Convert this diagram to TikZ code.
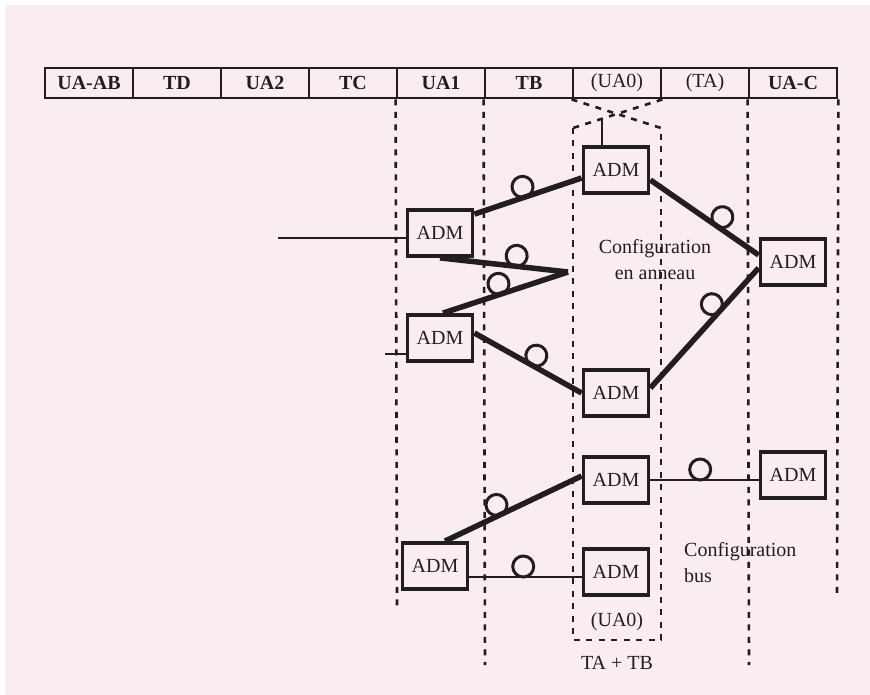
\documentclass[tikz,border=0pt]{standalone}
\usepackage{fontspec}
\setmainfont{Liberation Serif}
\definecolor{bgpink}{RGB}{249,237,240}
\definecolor{ink}{RGB}{35,30,30}
\newcommand{\fsz}{\fontsize{20}{26}\selectfont}
\begin{document}
\begin{tikzpicture}[x=1pt,y=-1pt,
  hcell/.style={draw=ink, line width=2.8pt, minimum width=88pt, minimum height=30pt, inner sep=0pt, font=\fsz\bfseries, text=ink},
  hcellr/.style={hcell, font=\fsz},
  adm/.style={draw=ink, line width=3.8pt, minimum width=65pt, minimum height=46pt, inner sep=0pt, font=\fsz, text=ink},
  ring/.style={draw=ink, line width=5.5pt},
  busline/.style={draw=ink, line width=2.6pt},
  thinline/.style={draw=ink, line width=1.6pt},
  coil/.style={circle, draw=ink, line width=3pt, minimum size=21pt, inner sep=0pt, outer sep=0pt, sloped, anchor=south},
  vdash/.style={draw=ink, line width=2.6pt, dash pattern=on 6pt off 6.5pt},
  lbl/.style={font=\fsz, text=ink, inner sep=0pt}
]
\fill[white] (0,0) rectangle (870,695);
\fill[bgpink] (5,5) rectangle (870,695);
\useasboundingbox (0,0) rectangle (870,695);

% header
\node[hcell]  (h1) at (89,83)  {UA-AB};
\node[hcell]  (h2) at (177,83) {TD};
\node[hcell]  (h3) at (265,83) {UA2};
\node[hcell]  (h4) at (353,83) {TC};
\node[hcell]  (h5) at (441,83) {UA1};
\node[hcell]  (h6) at (529,83) {TB};
\node[hcellr] (h7) at (617,83) {(UA0)};
\node[hcellr] (h8) at (705,83) {(TA)};
\node[hcell]  (h9) at (793,83) {UA-C};

% dashed column lines
\coordinate (e5) at (397,607);
\coordinate (e6) at (485,665);
\coordinate (e9) at (749,665);
\coordinate (e10) at (837,597);
\draw[vdash] (h5.south west) -- (e5);
\draw[vdash] (h6.south west) -- (e6);
\draw[vdash] (h9.south west) -- (e9);
\draw[vdash] (h9.south east) -- (e10);

% UA0 dashed box
\coordinate (ul) at (573,128);
\coordinate (ur) at (661,128);
\coordinate (bl) at (573,640);
\coordinate (br) at (661,640);
\draw[vdash] (h7.south west) -- (ur);
\draw[vdash] (h7.south east) -- (ul);
\draw[vdash] (ul) -- (bl) -- (br) -- (ur);

% ADM nodes
\node[adm] (a1) at (616,170) {ADM};
\node[adm] (a2) at (440,233) {ADM};
\node[adm] (a3) at (440,338) {ADM};
\node[adm] (a4) at (793,262) {ADM};
\node[adm] (a5) at (616,393) {ADM};
\node[adm] (a6) at (616,480) {ADM};
\node[adm] (a7) at (793,475) {ADM};
\node[adm] (a8) at (435,566) {ADM};
\node[adm] (a9) at (616,572) {ADM};

% stub and inputs
\coordinate (stub) at (602,119);
\draw[thinline] (stub) -- (stub |- a1.north);
\coordinate (in1) at (278,238);
\coordinate (in2) at (385,354);
\draw[thinline] (in1) -- (in1 -| a2.west);
\draw[thinline] (in2) -- (in2 -| a3.west);

% ring
\coordinate (tip) at (568,272);
\draw[ring] ([yshift=-6pt]a2.north east) -- node[coil,pos=0.48]{} ([yshift=-8pt]a1.west);
\draw[ring] ([yshift=-10pt]a1.east) -- node[coil,pos=0.61]{} ([yshift=7pt]a4.west);
\draw[ring] ([yshift=-6pt]a4.west) -- node[coil,pos=0.36]{} ([yshift=5pt]a5.east);
\draw[ring] ([yshift=5pt]a3.east) -- node[coil,pos=0.53]{} (a5.west);
\draw[ring] (a2.south) -- node[coil,pos=0.59]{} (tip);
\draw[ring] (tip) -- node[coil,pos=0.53]{} ([xshift=3pt]a3.north);

% bus
\draw[ring] ([xshift=10pt]a8.north) -- node[coil,pos=0.41]{} ([yshift=4pt]a6.west);
\draw[busline] ([yshift=-11pt]a8.east) -- node[coil,pos=0.48]{} ([yshift=-5pt]a9.west);
\draw[busline] (a6.east) -- node[coil,pos=0.46]{} (a6.east -| a7.west);

% labels
\node[lbl, align=center] (cfg1) at (655,260) {Configuration\\en anneau};
\node[lbl, align=left, anchor=west] (cfg2) at (684,563) {Configuration\\bus};
\node[lbl] (ua0) at (617,622) {(UA0)};
\node[lbl] (tatb) at (617,663) {TA + TB};
\end{tikzpicture}
\end{document}
